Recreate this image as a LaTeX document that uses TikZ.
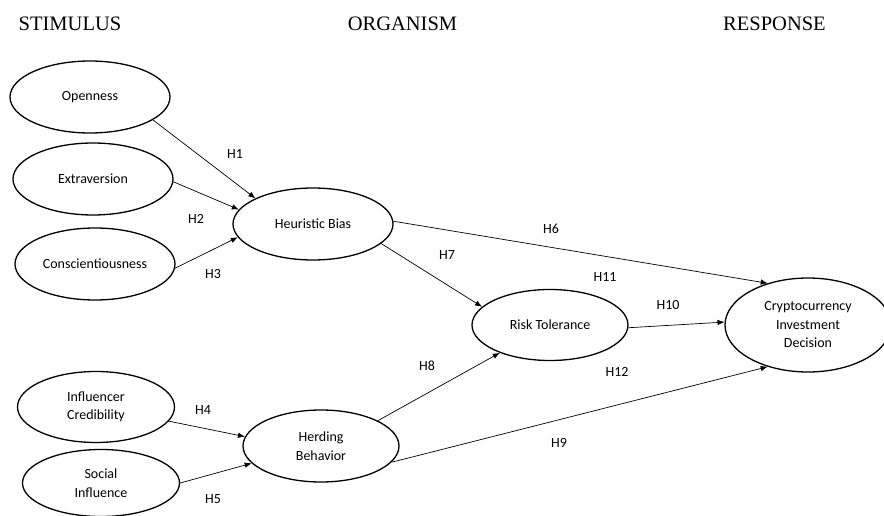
\documentclass[tikz,border=0pt]{standalone}
\usepackage{fontspec}
\setmainfont{Carlito}
\newfontfamily\hdrfont{Liberation Serif}
\usetikzlibrary{shapes.geometric,arrows.meta}
\begin{document}
\begin{tikzpicture}[x=1pt,y=-1pt,
  construct/.style={ellipse,draw,line width=1.3pt,inner sep=0pt,align=center,
    font=\fontsize{14}{18.5}\selectfont},
  hdr/.style={anchor=base,font=\hdrfont\fontsize{20.5}{24}\selectfont},
  hyp/.style={font=\fontsize{14}{17}\selectfont},
  link/.style={line width=0.7pt,-{Latex[length=7pt,width=5.5pt]}}]
\useasboundingbox (0,0) rectangle (884,516);
% headers
\node[hdr] (hs) at (70,31) {STIMULUS};
\node[hdr] (ho) at (402.5,31) {ORGANISM};
\node[hdr] (hr) at (774.5,31) {RESPONSE};
% constructs
\node[construct,minimum width=160pt,minimum height=72pt] (open) at (90,97) {Openness};
\node[construct,minimum width=160pt,minimum height=72pt] (extra) at (93,179) {Extraversion};
\node[construct,minimum width=160pt,minimum height=72pt] (consc) at (95,264) {Conscientiousness};
\node[construct,minimum width=160pt,minimum height=72pt] (heur) at (313,224) {Heuristic Bias};
\node[construct,minimum width=157pt,minimum height=71pt] (infl) at (96,407) {Influencer\\Credibility};
\node[construct,minimum width=157pt,minimum height=67pt] (soc) at (101,483) {Social\\Influence};
\node[construct,minimum width=156pt,minimum height=72pt] (herd) at (321,446) {Herding\\Behavior};
\node[construct,minimum width=156pt,minimum height=71pt] (risk) at (550,325) {Risk Tolerance};
\node[construct,minimum width=166pt,minimum height=94pt] (crypto) at (808,325) {Cryptocurrency\\Investment\\Decision};
% connectors
\draw[link] (open.-20) -- (heur.156);
\draw[link] (extra.-2) -- (heur.169);
\draw[link] (consc.-3) -- (heur.190);
\draw[link] (heur.2) -- (crypto.134);
\draw[link] (heur.-16) -- (risk.165);
\draw[link] (herd.24) -- (risk.209);
\draw[link] (herd.-13) -- (crypto.226);
\draw[link] (risk.-2) -- (crypto.178);
\draw[link] (infl.-11) -- (herd.173);
\draw[link] (soc.0) -- (herd.194);
% hypothesis labels
\node[hyp] (h1) at (235,154) {H1};
\node[hyp] (h2) at (196,219) {H2};
\node[hyp] (h3) at (213,274) {H3};
\node[hyp] (h4) at (203,410) {H4};
\node[hyp] (h5) at (213,499) {H5};
\node[hyp] (h6) at (551,229) {H6};
\node[hyp] (h7) at (447,255) {H7};
\node[hyp] (h8) at (427,366) {H8};
\node[hyp] (h9) at (559,443) {H9};
\node[hyp] (h10) at (668,305) {H10};
\node[hyp] (h11) at (605,277) {H11};
\node[hyp] (h12) at (617,372) {H12};
\end{tikzpicture}
\end{document}
